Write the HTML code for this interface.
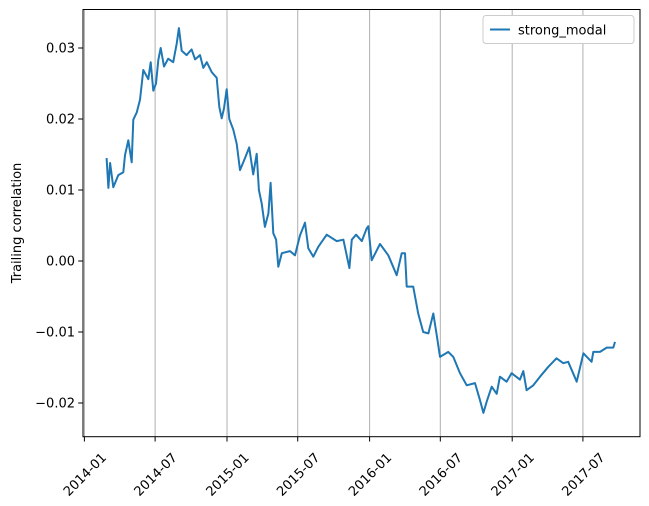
<!DOCTYPE html>
<html><head><meta charset="utf-8"><style>
html,body{margin:0;padding:0;background:#fff;}
svg{display:block;font-family:"DejaVu Sans","Liberation Sans",sans-serif;}
</style></head><body>
<svg id="chart" width="649" height="506">
<rect x="0" y="0" width="649" height="506" fill="#fff"/>
<g id="grid"></g>
<g id="series"></g>
<rect x="83" y="9.5" width="557" height="427.2" fill="none" stroke="#000" stroke-width="1"/>
<g id="xaxis"></g>
<g id="yaxis"></g>
<text x="21" y="223" transform="rotate(-90 21 223)" text-anchor="middle" font-size="13" fill="#000">Trailing correlation</text>
<g>
<rect x="483" y="15.5" width="151" height="28" rx="3" fill="#fff" stroke="#ccc" stroke-width="1"/>
<line x1="490" y1="29.5" x2="510" y2="29.5" stroke="#1f77b4" stroke-width="2"/>
<text x="518" y="34.5" font-size="13" fill="#000">strong_modal</text>
</g>
</svg>
<script>
const xTickLabels=["2014-01","2014-07","2015-01","2015-07","2016-01","2016-07","2017-01","2017-07"];
const xTickYears=[0,0.4959,1,1.4959,2,2.4959,3,3.4959];
const yTicks=[-0.02,-0.01,0.00,0.01,0.02,0.03];
const yTickLabels=["−0.02","−0.01","0.00","0.01","0.02","0.03"];
const times=[.156,.168,.180,.203,.238,.273,.285,.308,.332,.343,.367,.390,.413,.448,.465,.483,.502,.518,.535,.558,.588,.623,.647,.663,.682,.717,.752,.776,.811,.834,.858,.893,.928,.946,.963,.979,.998,1.016,1.044,1.068,1.091,1.126,1.156,1.184,1.208,1.224,1.243,1.266,1.290,1.306,1.325,1.344,1.360,1.384,1.442,1.477,1.512,1.547,1.570,1.605,1.640,1.699,1.769,1.816,1.858,1.875,1.905,1.945,1.980,1.991,2.015,2.073,2.131,2.190,2.225,2.248,2.260,2.306,2.341,2.376,2.412,2.447,2.471,2.494,2.552,2.587,2.634,2.681,2.739,2.774,2.798,2.821,2.856,2.891,2.914,2.961,2.996,3.054,3.078,3.101,3.148,3.195,3.253,3.311,3.358,3.393,3.452,3.499,3.557,3.569,3.616,3.663,3.709,3.721];
const values=[.0145,.0103,.0138,.0104,.0121,.0125,.0149,.0170,.0139,.0199,.0209,.0227,.0269,.0256,.0280,.0240,.0250,.0283,.0300,.0274,.0285,.0280,.0306,.0328,.0296,.0290,.0298,.0284,.0290,.0272,.0280,.0266,.0258,.0217,.0201,.0215,.0242,.0200,.0185,.0165,.0128,.0145,.0160,.0122,.0151,.0100,.0081,.0048,.0067,.0110,.0039,.0030,-.0008,.0011,.0014,.0008,.0036,.0054,.0018,.0006,.0020,.0037,.0028,.0030,-.0010,.0030,.0037,.0028,.0046,.0049,.0001,.0024,.0008,-.0020,.0011,.0011,-.0036,-.0036,-.0074,-.0100,-.0102,-.0074,-.0105,-.0135,-.0128,-.0135,-.0158,-.0175,-.0172,-.0196,-.0214,-.0198,-.0177,-.0187,-.0163,-.0170,-.0158,-.0167,-.0155,-.0182,-.0175,-.0163,-.0149,-.0137,-.0144,-.0142,-.0170,-.0130,-.0142,-.0128,-.0128,-.0122,-.0122,-.0114];
const NS="http://www.w3.org/2000/svg";
function xs(t){return 84.4+t*142.6;}
function ys(v){return 261-v*7100;}
function mk(tag,attrs,parent){const e=document.createElementNS(NS,tag);for(const k in attrs)e.setAttribute(k,attrs[k]);parent.appendChild(e);return e;}
const grid=document.getElementById('grid'),xa=document.getElementById('xaxis'),ya=document.getElementById('yaxis'),ser=document.getElementById('series');
xTickYears.forEach((t,i)=>{
 const x=xs(t);
 const g=mk('line',{x1:x,y1:9.5,x2:x,y2:436.7,stroke:'#b0b0b0','stroke-width':1},grid);
 
 
 const tk=mk('line',{x1:x,y1:436.7,x2:x,y2:441.5,stroke:'#000','stroke-width':1},xa);
 
 
 const tx=mk('text',{x:x,y:479,'font-size':13,'text-anchor':'middle',fill:'#000',transform:`rotate(-45 ${x} 474)`},xa);
 tx.textContent=xTickLabels[i];
 
 
});
yTicks.forEach((v,i)=>{
 const y=ys(v);
 const tk=mk('line',{x1:78.2,y1:y,x2:83,y2:y,stroke:'#000','stroke-width':1},ya);
 
 
 const tx=mk('text',{x:75,y:y+4.5,'font-size':13,'text-anchor':'end',fill:'#000'},ya);
 tx.textContent=yTickLabels[i];
 
 
});
const d=times.map((t,i)=>(i?'L':'M')+xs(t).toFixed(1)+' '+ys(values[i]).toFixed(1)).join(' ');
const p=mk('path',{d:d,fill:'none',stroke:'#1f77b4','stroke-width':2,'stroke-linejoin':'round'},ser);


</script>
</body></html>
